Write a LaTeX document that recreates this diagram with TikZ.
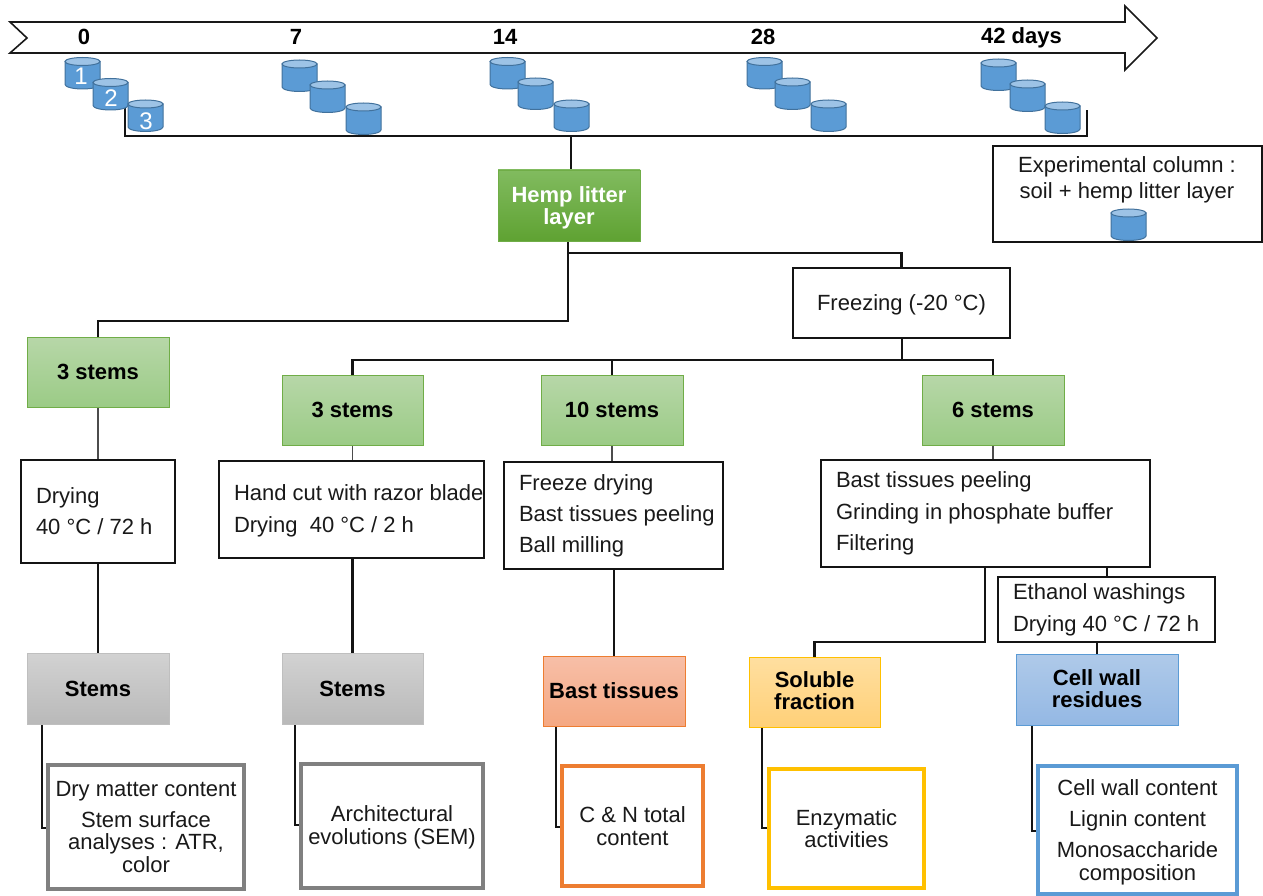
\documentclass[tikz,border=0pt]{standalone}
\usepackage{fontspec}
\setmainfont{Liberation Sans}
\usetikzlibrary{backgrounds}
\definecolor{cylbody}{HTML}{5B9BD5}
\definecolor{cyltop}{HTML}{9DC3E6}
\definecolor{cylline}{HTML}{41719C}
\definecolor{greenT}{HTML}{B7D7A8}
\definecolor{greenB}{HTML}{9BCB86}
\definecolor{greenL}{HTML}{70AD47}
\definecolor{hempT}{HTML}{81BB5F}
\definecolor{hempB}{HTML}{5FA232}
\definecolor{greyT}{HTML}{D2D2D2}
\definecolor{greyB}{HTML}{B9B9B9}
\definecolor{greyL}{HTML}{BFBFBF}
\definecolor{orT}{HTML}{F7BFA8}
\definecolor{orB}{HTML}{F5A882}
\definecolor{orL}{HTML}{ED7D31}
\definecolor{yeT}{HTML}{FFDFA0}
\definecolor{yeB}{HTML}{FFD078}
\definecolor{yeL}{HTML}{FFC000}
\definecolor{blT}{HTML}{AFCAE9}
\definecolor{blB}{HTML}{94B8E4}
\definecolor{blL}{HTML}{5B9BD5}
\definecolor{resGrey}{HTML}{808080}
\newcommand{\bx}[7][]{\node[#2,minimum width={(#5-#3)*1pt},minimum height={(#6-#4)*1pt},inner sep=0pt,outer sep=0pt,#1] (#7) at ({(#3+#5)/2},{(#4+#6)/2})}
\newcommand{\ltx}[3]{\makebox[#1pt][l]{\hspace{#2pt}\begin{tabular}{@{}l@{}}#3\end{tabular}}}
\newcommand{\dn}[1]{\rule{0pt}{\dimexpr16pt+#1pt*2\relax}}
\newcommand{\up}[1]{\rule[\dimexpr-#1pt*2\relax]{0pt}{1pt}}
\tikzset{
 x=1pt,y=-1pt,
 txt/.style={font=\fontsize{22}{22.5}\selectfont,align=center,text=black!90},
 plainbox/.style={txt,draw=black!92,line width=1.8pt,fill=white},
 bold/.style={font=\fontsize{22}{22}\selectfont\bfseries,align=center,text=black},
 conn/.style={draw=black!92,line width=2.8pt,line cap=rect},
 thinconn/.style={draw=black!70,line width=1.6pt},
 result/.style={txt,line width=4pt,fill=white,draw=#1},
 sbox/.style={bold,draw=#1,line width=.9pt},
 cyl/.pic={
  \path[fill=cylbody,draw=cylline,line width=1pt] (0,4)--(0,27) .. controls (0,29.5) and (8,31.5) .. (17.5,31.5) .. controls (27,31.5) and (35,29.5) .. (35,27)--(35,4)--cycle;
  \path[fill=cyltop,draw=cylline,line width=1pt] (17.5,4) ellipse [x radius=17.5pt,y radius=4pt];
 },
 cyln/.style={text=white,font=\fontsize{24}{24}\selectfont,inner sep=0pt},
 day/.style={font=\fontsize{22}{22}\selectfont\bfseries,text=black,inner sep=0pt}
}
\begin{document}
\begin{tikzpicture}
\useasboundingbox (0,0) rectangle (1263,896);
% time arrow
\draw[draw=black!90,line width=1.6pt,fill=white,line join=miter] (10,22)--(1125,22)--(1125,6)--(1157,38)--(1125,70)--(1125,53)--(10,53)--(27,38)--cycle;
\node[day] (d0) at (84,37) {0};
\node[day] (d7) at (296,37) {7};
\node[day] (d14) at (505,37) {14};
\node[day] (d28) at (763,37) {28};
\node[day,anchor=base] (d42) at (1021.5,44) {42 days};
% bracket coordinates
\coordinate (bTL) at (125,108);
\coordinate (bBL) at (125,136);
\coordinate (bBR) at (1087,136);
\coordinate (bTR) at (1087,110);
\coordinate (bT) at (571,136);
\draw[conn,line cap=butt,line join=miter] (bTL)--(bBL)--(bBR)--(bTR);
% columns
\pic at (65,57.5) {cyl}; \node[cyln] (n1) at (81,76) {1};
\pic at (93,78.5) {cyl}; \node[cyln] (n2) at (111,98) {2};
\pic at (128,100) {cyl}; \node[cyln] (n3) at (146,121) {3};
\pic at (282,60) {cyl}; \pic at (310,81) {cyl}; \pic at (346,103) {cyl};
\pic at (490,57.5) {cyl}; \pic at (518,78) {cyl}; \pic at (554,100) {cyl};
\pic at (747,57.5) {cyl}; \pic at (775,78) {cyl}; \pic at (811,100) {cyl};
\pic at (981,59) {cyl}; \pic at (1010,80) {cyl}; \pic at (1045,102) {cyl};
% legend
\bx{plainbox}{993}{146}{1262}{242}{legend} {};
\node[txt,inner sep=0pt] (legendtxt) at (1127,180) {Experimental column :\\[3.5pt]soil + hemp litter layer};
\pic at (1111,209) {cyl};
% top
\bx[top color=hempT,bottom color=hempB,text=white]{sbox=greenL}{498}{170}{640}{241}{hemp} {\dn{2}Hemp litter\\layer};
\bx{plainbox}{793}{268}{1010}{338}{freeze} {\dn{2}Freezing (-20 °C)};
% green
\bx[top color=greenT,bottom color=greenB]{sbox=greenL}{27}{337}{169}{407}{gA} {3 stems};
\bx[top color=greenT,bottom color=greenB]{sbox=greenL}{282}{375}{423}{445}{gB} {3 stems};
\bx[top color=greenT,bottom color=greenB]{sbox=greenL}{541}{375}{683}{445}{gC} {10 stems};
\bx[top color=greenT,bottom color=greenB]{sbox=greenL}{922}{375}{1064}{445}{gD} {6 stems};
% processes
\bx{plainbox}{21}{460}{175}{563}{pA} {\ltx{154}{15}{\dn{2.5}Drying\\[8.5pt]40 °C / 72 h}};
\bx{plainbox}{219}{461}{484}{558}{pB} {\ltx{265}{15}{\dn{2}Hand cut with razor blade\\[9.5pt]Drying\ \ 40 °C / 2 h}};
\bx{plainbox}{504}{462}{723}{569}{pC} {\ltx{219}{15}{\dn{1.5}Freeze drying\\[8.5pt]Bast tissues peeling\\[8.5pt]Ball milling}};
\bx{plainbox}{821}{460}{1150}{567}{pD} {\ltx{329}{15}{\dn{1}Bast tissues peeling\\[8.5pt]Grinding in phosphate buffer\\[8.5pt]Filtering}};
\bx{plainbox}{998}{577}{1215}{642}{pE} {\ltx{217}{15}{\dn{1.5}Ethanol washings\\[9.5pt]Drying 40 °C / 72 h}};
% products
\bx[top color=greyT,bottom color=greyB]{sbox=greyL}{27}{653}{169}{724}{sA} {Stems};
\bx[top color=greyT,bottom color=greyB]{sbox=greyL}{282}{653}{423}{724}{sB} {Stems};
\bx[top color=orT,bottom color=orB]{sbox=orL}{543}{656}{685}{726}{sC} {Bast tissues};
\bx[top color=yeT,bottom color=yeB]{sbox=yeL}{749}{657}{880}{727}{sD} {Soluble\\fraction\up{1}};
\bx[top color=blT,bottom color=blB]{sbox=blL}{1016}{654}{1178}{725}{sE} {Cell wall\\residues\up{1}};
% results
\bx{result=resGrey}{48}{765}{244}{889}{rA} {Dry matter content\\[8.5pt]Stem surface\\analyses : ATR,\\color};
\bx{result=resGrey}{301}{764}{483}{888}{rB} {\dn{1.5}Architectural\\evolutions (SEM)};
\bx{result=orL}{562}{766}{703}{886}{rC} {C \& N total\\content};
\bx{result=yeL}{769}{769}{924}{888}{rD} {Enzymatic\\activities};
\bx{result=blL}{1038}{766}{1237}{894}{rE} {\dn{2}Cell wall content\\[9pt]Lignin content\\[8.5pt]Monosaccharide\\composition};
% junctions
\coordinate (jH) at (568,253);
\coordinate (jHL) at (568,321);
\coordinate (jF) at (902,360);
\coordinate (jS) at (985,642);
\coordinate (jA) at (42,828);
\coordinate (jB) at (295,825);
\coordinate (jC) at (556,827);
\coordinate (jD) at (762,828);
\coordinate (jE) at (1032,831);
\coordinate (jP) at (1107,567);
\begin{scope}[on background layer]
\draw[conn] (bT)--(bT |- hemp.north);
\draw[conn] (jH |- hemp.south)--(jHL)-|(gA.north);
\draw[conn] (jH)-|(jH -| freeze.north)--(freeze.north);
\draw[conn] (jF |- freeze.south)--(jF);
\draw[conn] (gB.north)|-(jF);
\draw[conn] (gC.north)|-(jF);
\draw[conn] (jF)-|(gD.north);
\draw[thinconn] (gA.south)--(pA.north);
\draw[conn] (pA.south)--(sA.north);
\draw[thinconn] (gB.south)--(gB.south |- pB.north);
\draw[conn] (gB.south |- pB.south)--(gB.south |- sB.north);
\draw[thinconn] (gC.south)--(gC.south |- pC.north);
\draw[conn] (sC.north |- pC.south)--(sC.north);
\draw[thinconn] (gD.south)--(gD.south |- pD.north);
\draw[conn] (jS |- pD.south)--(jS)-|(sD.north);
\draw[conn] (jP)--(jP |- pE.north);
\draw[conn] (sE.north)--(sE.north |- pE.south);
\draw[conn] (jA |- sA.south)--(jA)--(jA -| rA.west);
\draw[conn] (jB |- sB.south)--(jB)--(jB -| rB.west);
\draw[conn] (jC |- sC.south)--(jC)--(jC -| rC.west);
\draw[conn] (jD |- sD.south)--(jD)--(jD -| rD.west);
\draw[conn] (jE |- sE.south)--(jE)--(jE -| rE.west);
\end{scope}
\end{tikzpicture}
\end{document}
